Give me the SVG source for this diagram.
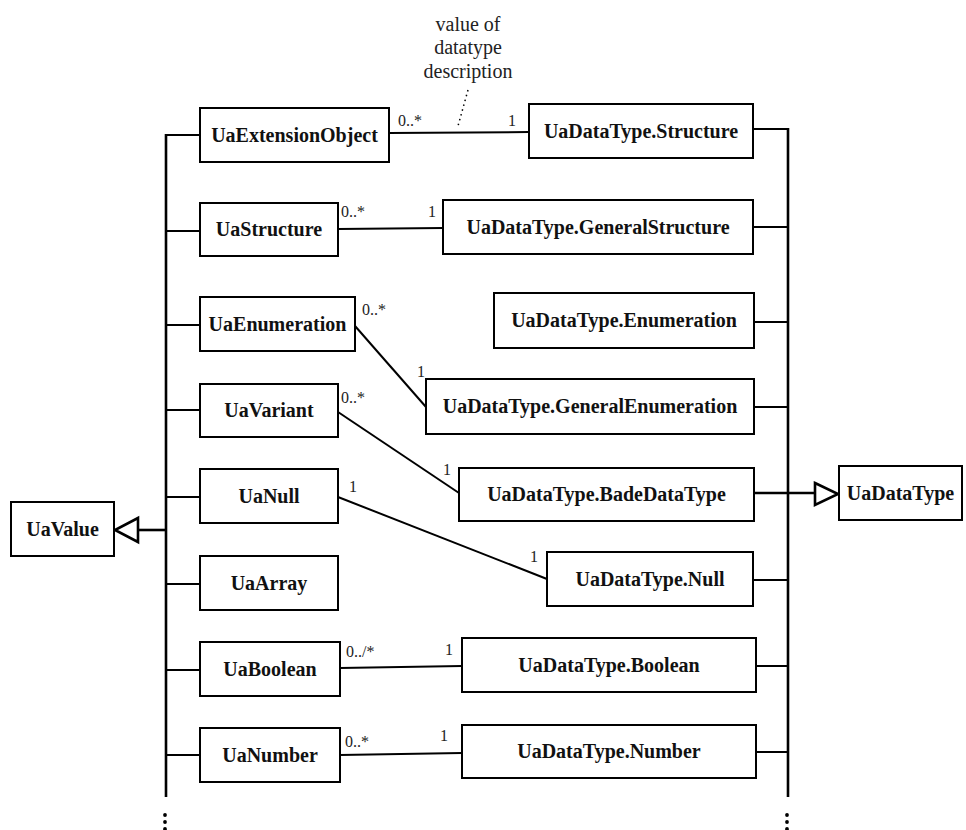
<svg xmlns="http://www.w3.org/2000/svg" width="966" height="830" viewBox="0 0 966 830">
  <style>
    .box { fill: #fff; stroke: #000; stroke-width: 2; }
    .name { font-family: 'Liberation Serif', 'DejaVu Serif', serif; font-weight: bold; font-size: 20px; fill: #111; text-anchor: middle; }
    .mult { font-family: 'Liberation Serif', 'DejaVu Serif', serif; font-size: 16px; fill: #222; }
    .note { font-family: 'Liberation Serif', 'DejaVu Serif', serif; font-size: 20px; fill: #222; text-anchor: middle; }
    .bus { stroke: #000; stroke-width: 2.6; fill: none; }
    .link { stroke: #000; stroke-width: 2; fill: none; }
    .tri { fill: #fff; stroke: #000; stroke-width: 2.6; stroke-linejoin: miter; }
    .dot { fill: #000; }
  </style>

  <!-- connectors: generalization buses, stubs and associations -->
  <g id="connectors">
    <!-- left bus (UaValue subtypes) -->
    <line class="bus" x1="166" y1="134" x2="166" y2="797"/>
    <line class="link" x1="166" y1="135" x2="200" y2="135"/>
    <line class="link" x1="166" y1="231" x2="200" y2="231"/>
    <line class="link" x1="166" y1="325" x2="200" y2="325"/>
    <line class="link" x1="166" y1="410" x2="200" y2="410"/>
    <line class="link" x1="166" y1="497" x2="200" y2="497"/>
    <line class="link" x1="166" y1="584" x2="200" y2="584"/>
    <line class="link" x1="166" y1="670" x2="200" y2="670"/>
    <line class="link" x1="166" y1="755" x2="200" y2="755"/>
    <line class="bus" x1="138" y1="530" x2="166" y2="530"/>
    <polygon class="tri" points="138,518 115,530 138,542"/>

    <!-- right bus (UaDataType subtypes) -->
    <line class="bus" x1="788" y1="128" x2="788" y2="797"/>
    <line class="link" x1="753" y1="129" x2="788" y2="129"/>
    <line class="link" x1="753" y1="227" x2="788" y2="227"/>
    <line class="link" x1="754" y1="322" x2="788" y2="322"/>
    <line class="link" x1="754" y1="407" x2="788" y2="407"/>
    <line class="link" x1="753" y1="580" x2="788" y2="580"/>
    <line class="link" x1="756" y1="666" x2="788" y2="666"/>
    <line class="link" x1="756" y1="752" x2="788" y2="752"/>
    <line class="bus" x1="754" y1="493" x2="815" y2="493"/>
    <polygon class="tri" points="815,483 838,494 815,505"/>

    <!-- associations -->
    <line class="link" x1="389" y1="133" x2="529" y2="132"/>
    <line class="link" x1="338" y1="229" x2="443" y2="228"/>
    <line class="link" x1="355" y1="326" x2="426" y2="407"/>
    <line class="link" x1="338" y1="412" x2="459" y2="493"/>
    <line class="link" x1="338" y1="497" x2="547" y2="579"/>
    <line class="link" x1="340" y1="668" x2="462" y2="666"/>
    <line class="link" x1="340" y1="755" x2="462" y2="753"/>

    <!-- note anchor -->
    <line x1="468" y1="90" x2="458" y2="126" stroke="#000" stroke-width="1.5" stroke-dasharray="1.5 3.5"/>

    <!-- continuation marks -->
    <circle class="dot" cx="165" cy="815" r="1.9"/>
    <circle class="dot" cx="165" cy="822" r="1.9"/>
    <circle class="dot" cx="165" cy="829" r="1.9"/>
    <circle class="dot" cx="787" cy="815" r="1.9"/>
    <circle class="dot" cx="787" cy="822" r="1.9"/>
    <circle class="dot" cx="787" cy="829" r="1.9"/>
  </g>

  <!-- multiplicities -->
  <g id="multiplicities" font-family="Liberation Serif, serif">
    <text class="mult" x="398" y="126">0..*</text>
    <text class="mult" x="508" y="126">1</text>
    <text class="mult" x="341" y="217">0..*</text>
    <text class="mult" x="428" y="217">1</text>
    <text class="mult" x="362" y="315">0..*</text>
    <text class="mult" x="417" y="377">1</text>
    <text class="mult" x="341" y="403">0..*</text>
    <text class="mult" x="443" y="475">1</text>
    <text class="mult" x="349" y="492">1</text>
    <text class="mult" x="530" y="562">1</text>
    <text class="mult" x="346" y="657">0../*</text>
    <text class="mult" x="445" y="655">1</text>
    <text class="mult" x="345" y="747">0..*</text>
    <text class="mult" x="440" y="741">1</text>
  </g>

  <!-- note -->
  <g id="note" font-family="Liberation Serif, serif">
    <text class="note" x="468" y="31">value of</text>
    <text class="note" x="468" y="54">datatype</text>
    <text class="note" x="468" y="78">description</text>
  </g>

  <!-- value classes -->
  <g id="UaValue"><rect class="box" x="11" y="502" width="103" height="54"/><text class="name" x="62.5" y="536">UaValue</text></g>
  <g id="UaExtensionObject"><rect class="box" x="200" y="108" width="189" height="54"/><text class="name" x="294.5" y="142">UaExtensionObject</text></g>
  <g id="UaStructure"><rect class="box" x="200" y="203" width="138" height="53"/><text class="name" x="269" y="236">UaStructure</text></g>
  <g id="UaEnumeration"><rect class="box" x="200" y="297" width="155" height="54"/><text class="name" x="277.5" y="331">UaEnumeration</text></g>
  <g id="UaVariant"><rect class="box" x="200" y="384" width="138" height="53"/><text class="name" x="269" y="417">UaVariant</text></g>
  <g id="UaNull"><rect class="box" x="200" y="469" width="138" height="54"/><text class="name" x="269" y="503">UaNull</text></g>
  <g id="UaArray"><rect class="box" x="200" y="556" width="138" height="54"/><text class="name" x="269" y="590">UaArray</text></g>
  <g id="UaBoolean"><rect class="box" x="200" y="642" width="140" height="54"/><text class="name" x="270" y="676">UaBoolean</text></g>
  <g id="UaNumber"><rect class="box" x="200" y="728" width="140" height="54"/><text class="name" x="270" y="762">UaNumber</text></g>

  <!-- datatype classes -->
  <g id="UaDataType"><rect class="box" x="839" y="466" width="123" height="54"/><text class="name" x="900.5" y="500">UaDataType</text></g>
  <g id="UaDataType.Structure"><rect class="box" x="529" y="104" width="224" height="54"/><text class="name" x="641" y="138">UaDataType.Structure</text></g>
  <g id="UaDataType.GeneralStructure"><rect class="box" x="443" y="200" width="310" height="54"/><text class="name" x="598" y="234">UaDataType.GeneralStructure</text></g>
  <g id="UaDataType.Enumeration"><rect class="box" x="494" y="293" width="260" height="55"/><text class="name" x="624" y="327">UaDataType.Enumeration</text></g>
  <g id="UaDataType.GeneralEnumeration"><rect class="box" x="426" y="379" width="328" height="55"/><text class="name" x="590" y="413">UaDataType.GeneralEnumeration</text></g>
  <g id="UaDataType.BadeDataType"><rect class="box" x="459" y="468" width="295" height="53"/><text class="name" x="606.5" y="501">UaDataType.BadeDataType</text></g>
  <g id="UaDataType.Null"><rect class="box" x="547" y="552" width="206" height="54"/><text class="name" x="650" y="586">UaDataType.Null</text></g>
  <g id="UaDataType.Boolean"><rect class="box" x="462" y="638" width="294" height="54"/><text class="name" x="609" y="672">UaDataType.Boolean</text></g>
  <g id="UaDataType.Number"><rect class="box" x="462" y="725" width="294" height="53"/><text class="name" x="609" y="758">UaDataType.Number</text></g>
</svg>
